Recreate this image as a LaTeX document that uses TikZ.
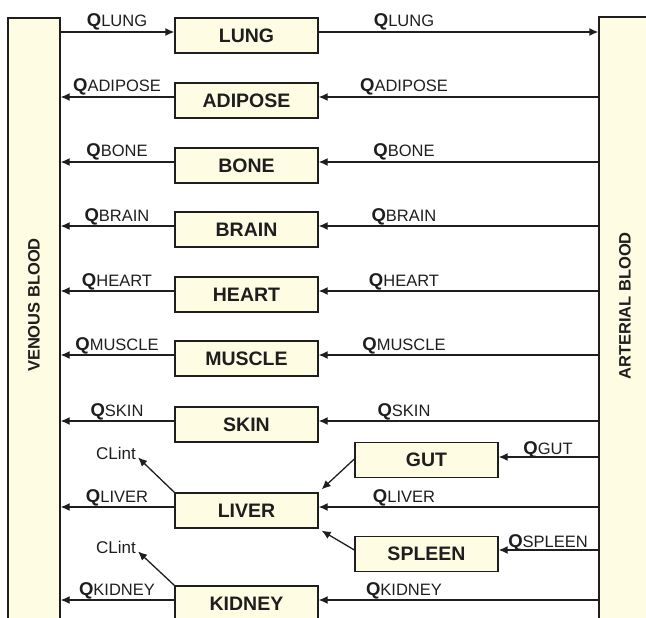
\documentclass[tikz,border=0pt]{standalone}
\usepackage{fontspec}
\setmainfont{Liberation Sans}
\usetikzlibrary{arrows.meta,calc}
\definecolor{cream}{RGB}{255,252,228}
\definecolor{ink}{RGB}{30,30,30}
\newcommand\Qlab[1]{{\fontsize{18.5}{18.5}\selectfont\bfseries Q}{\fontsize{16.5}{16.5}\selectfont #1}}
\begin{document}
\begin{tikzpicture}[x=1pt,y=-1pt,
 organ/.style={draw=ink, fill=cream, line width=1.3pt, minimum width=143pt, minimum height=35pt, inner sep=0pt, font=\fontsize{19.5}{19.5}\selectfont\bfseries, text=ink},
 blood/.style={draw=ink, fill=cream, line width=1.3pt, minimum width=52pt, minimum height=642pt, inner sep=0pt},
 side/.style={rotate=90, font=\fontsize{16.5}{16.5}\selectfont\bfseries, text=ink},
 flow/.style={anchor=base, text=ink, inner sep=0pt},
 arr/.style={draw=ink, line width=1.3pt, -{Latex[length=9pt,width=8pt]}},
 clint/.style={font=\fontsize{17}{17}\selectfont, text=ink, inner sep=1pt}]
\useasboundingbox (0,0) rectangle (646,618);
\node[blood] (venous) at (34,339) {};
\node[blood] (arterial) at (625,338) {};
\node[side] (vlab) at (34,305) {VENOUS BLOOD};
\node[side] (alab) at (625,306) {ARTERIAL BLOOD};
% lung
\coordinate (rLUNG) at (0,32);
\node[organ] (LUNG) at (246.5,35.5) {LUNG};
\draw[arr] (venous.east |- rLUNG) -- (LUNG.west |- rLUNG);
\draw[arr] (LUNG.east |- rLUNG) -- (arterial.west |- rLUNG);
\node[flow] (qlLUNG) at (117,27) {\Qlab{LUNG}};
\node[flow] (qrLUNG) at (404,27) {\Qlab{LUNG}};
% other organs
\foreach \n/\t in {ADIPOSE/83,BONE/148,BRAIN/212,HEART/277,MUSCLE/341,SKIN/407,LIVER/493,KIDNEY/586}{
  \coordinate (r\n) at (0,\t+14);
  \node[organ] (\n) at (246.5,\t+17.5) {\n};
  \draw[arr] (\n.west |- r\n) -- (venous.east |- r\n);
  \draw[arr] (arterial.west |- r\n) -- (\n.east |- r\n);
  \node[flow] (ql\n) at (117,\t+9) {\Qlab{\n}};
  \node[flow] (qr\n) at (404,\t+9) {\Qlab{\n}};
}
% gut and spleen
\node[organ] (GUT) at (426.5,460) {GUT};
\node[organ] (SPLEEN) at (426.5,554) {SPLEEN};
\coordinate (rGUT) at (0,457);
\coordinate (rSPLEEN) at (0,550);
\draw[arr] (arterial.west |- rGUT) -- (GUT.east |- rGUT);
\draw[arr] (arterial.west |- rSPLEEN) -- (SPLEEN.east |- rSPLEEN);
\node[flow] (qrGUT) at (548,454) {\Qlab{GUT}};
\node[flow] (qrSPLEEN) at (548,547) {\Qlab{SPLEEN}};
\draw[arr] ([yshift=1pt]GUT.west) -- ([xshift=3pt,yshift=3pt]LIVER.north east);
\draw[arr] ([yshift=4pt]SPLEEN.west) -- ([xshift=3pt,yshift=-2pt]LIVER.south east);
% clearance
\node[clint] (cl1) at (116,453) {CLint};
\node[clint] (cl2) at (116,547) {CLint};
\draw[arr] (LIVER.north west) -- ([xshift=1pt,yshift=3pt]cl1.south east);
\draw[arr] (KIDNEY.north west) -- ([xshift=1pt,yshift=3pt]cl2.south east);
\end{tikzpicture}
\end{document}
